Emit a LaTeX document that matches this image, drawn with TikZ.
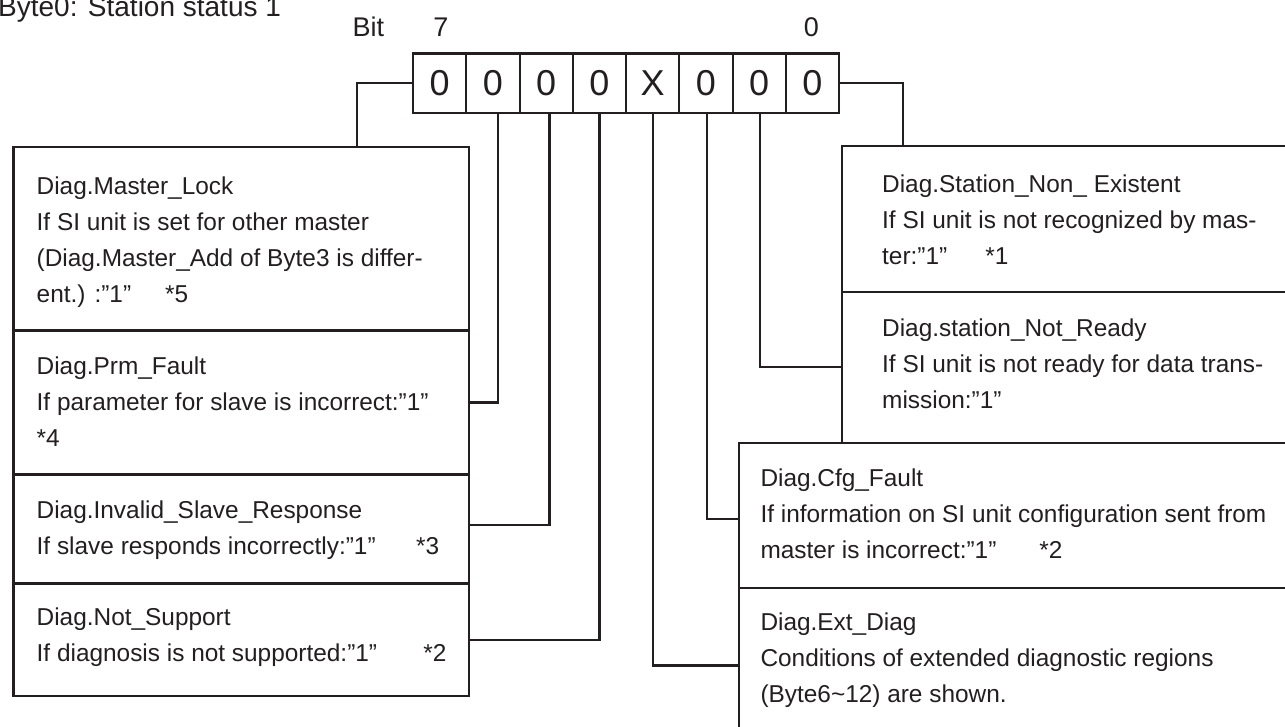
\documentclass[tikz,border=0pt]{standalone}
\usepackage{fontspec}
\setmainfont{Liberation Sans}
\definecolor{ink}{RGB}{35,31,32}
\tikzset{
  panel/.style={draw=ink, line width=2.2pt, rectangle, inner sep=0pt, anchor=north west},
  cell/.style={draw=ink, line width=2.2pt, rectangle, inner sep=0pt,
    minimum width=53.25pt, minimum height=59.4pt, anchor=north west,
    text=ink, font=\fontsize{36}{40}\selectfont},
  desc/.style={inner sep=0pt, anchor=north west, align=left, text=ink,
    font=\fontsize{24.4}{36}\selectfont},
  bitlbl/.style={inner sep=0pt, text=ink, font=\fontsize{27}{30}\selectfont},
  wire/.style={draw=ink, line width=2.2pt},
}
\newcommand{\firstline}{\rule{0pt}{20pt}}
\begin{document}
\begin{tikzpicture}[x=1pt, y=-1pt]
\useasboundingbox (0,0) rectangle (1285,726);
\clip (0,0) rectangle (1285,726);
\fill[white] (0,0) rectangle (1285,726);

% heading and bit numbering
\node[bitlbl, anchor=base west, font=\fontsize{28}{30}\selectfont] (title) at (-2,16) {Byte0: Station status 1};
\node[bitlbl, anchor=base west] (bitword) at (352.3,36.7) {Bit};
\node[bitlbl, anchor=base] (msb) at (441,36.7) {7};
\node[bitlbl, anchor=base] (lsb) at (811.4,36.7) {0};

% the eight bit cells, bit 7 on the left
\foreach \v/\n [count=\i from 0] in {0/b7,0/b6,0/b5,0/b4,X/b3,0/b2,0/b1,0/b0}
  \node[cell] (\n) at ({412+53.25*\i},52.3) {\v};

% left column of descriptions
\node[panel, minimum width=455.4pt, minimum height=183.8pt] (masterlock) at (12.3,145.5) {};
\node[panel, minimum width=455.4pt, minimum height=144pt]   (prmfault)   at (12.3,329.3) {};
\node[panel, minimum width=455.4pt, minimum height=109pt]   (invalid)    at (12.3,473.3) {};
\node[panel, minimum width=455.4pt, minimum height=112.7pt] (notsupport) at (12.3,582.3) {};

% right column of descriptions
\node[panel, minimum width=459pt,   minimum height=145.7pt] (stnonexist) at (841,145) {};
\node[panel, minimum width=459pt,   minimum height=151pt]   (notready)   at (841,290.7) {};
\node[panel, minimum width=562.3pt, minimum height=145pt]   (cfgfault)   at (737.7,441.7) {};
\node[panel, minimum width=562.3pt, minimum height=155.3pt] (extdiag)    at (737.7,586.7) {};

% texts
\node[desc] (masterlock-t) at (36.5,174) {\firstline Diag.Master\_Lock\\
  If SI unit is set for other master\\
  (Diag.Master\_Add of Byte3 is differ-\\
  \makebox[128.4pt][l]{ent.) :”1”}*5};
\node[desc] (prmfault-t) at (36.5,354.3) {\firstline Diag.Prm\_Fault\\
  If parameter for slave is incorrect:”1”\\
  *4};
\node[desc] (invalid-t) at (36.5,498.3) {\firstline Diag.Invalid\_Slave\_Response\\
  \makebox[379.4pt][l]{If slave responds incorrectly:”1”}*3};
\node[desc] (notsupport-t) at (36.5,605.7) {\firstline Diag.Not\_Support\\
  \makebox[386.7pt][l]{If diagnosis is not supported:”1”}*2};

\node[desc] (stnonexist-t) at (882,172.7) {\firstline Diag.Station\_Non\_ Existent\\
  If SI unit is not recognized by mas-\\
  \makebox[103.2pt][l]{ter:”1”}*1};
\node[desc] (notready-t) at (882,316.7) {\firstline Diag.station\_Not\_Ready\\
  If SI unit is not ready for data trans-\\
  mission:”1”};
\node[desc] (cfgfault-t) at (760.3,466.7) {\firstline Diag.Cfg\_Fault\\
  If information on SI unit configuration sent from\\
  \makebox[278.9pt][l]{master is incorrect:”1”}*2};
\node[desc] (extdiag-t) at (760.3,610) {\firstline Diag.Ext\_Diag\\
  Conditions of extended diagnostic regions\\
  (Byte6\textasciitilde 12) are shown.};

% connectors from the bits to their descriptions
\coordinate (mlhook) at (356.7,145.5);
\coordinate (nehook) at (902.7,145);
\draw[wire] (b7.west) -| (mlhook);
\draw[wire] ([xshift=4.8pt]b6.south) |- (prmfault.east);
\draw[wire] ([xshift=3.2pt]b5.south) |- ([yshift=4.3pt]invalid.east);
\draw[wire] (b4.south) |- (notsupport.east);
\draw[wire] (b3.south) |- (extdiag.west);
\draw[wire] ([xshift=1pt]b2.south) |- ([yshift=-3.5pt]cfgfault.west);
\draw[wire] ([xshift=1pt]b1.south) |- (notready.west);
\draw[wire] (b0.east) -| (nehook);
\end{tikzpicture}
\end{document}
